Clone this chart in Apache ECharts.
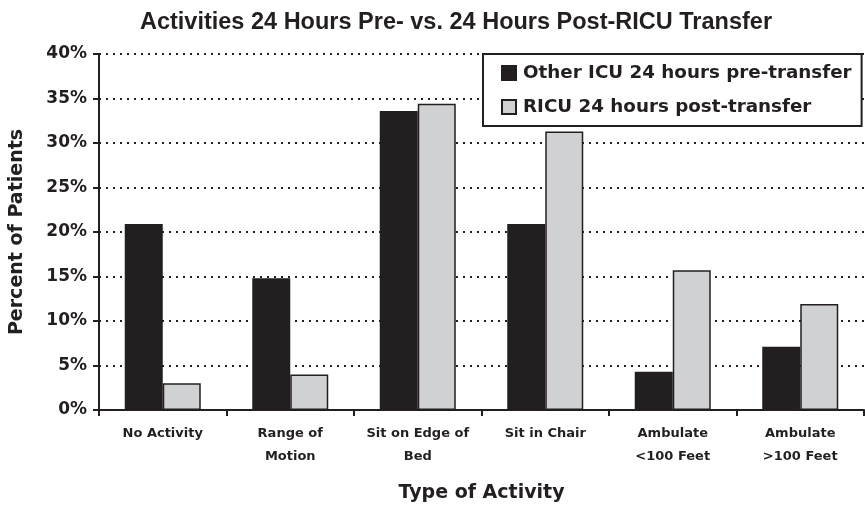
<!DOCTYPE html>
<html>
<head>
<meta charset="utf-8">
<script src="https://cdn.jsdelivr.net/npm/echarts@6/dist/echarts.min.js"></script>
<style>
  html, body { margin: 0; padding: 0; background: #fff; }
  #chart { width: 865px; height: 506px; }
</style>
</head>
<body>
<div id="chart"></div>
<script>
// 活动类别
let categories = ['No Activity', 'Range of\nMotion', 'Sit on Edge of\nBed', 'Sit in Chair', 'Ambulate\n<100 Feet', 'Ambulate\n>100 Feet']
// 转入前 24 小时
let preTransfer = [20.9, 14.8, 33.6, 20.9, 4.3, 7.1]
// 转入后 24 小时
let postTransfer = [3.0, 4.0, 34.4, 31.3, 15.7, 11.9]
let seriesNames = ['Other ICU 24 hours pre-transfer', 'RICU 24 hours post-transfer']

let dark = '#231f20'
let light = '#d0d1d3'
let font = 'DejaVu Sans, Verdana, sans-serif'
let titleFont = 'Liberation Sans, Arial, sans-serif'

let option = {
    backgroundColor: '#fff',
    animation: false,
    title: {
        text: 'Activities 24 Hours Pre- vs. 24 Hours Post-RICU Transfer',
        left: 451,
        top: 6,
        textAlign: 'center',
        textStyle: { fontFamily: titleFont, fontSize: 23.5, fontWeight: 'bold', color: dark }
    },
    legend: {
        orient: 'vertical',
        left: 483,
        top: 54,
        padding: [8, 10, 8, 18],
        itemGap: 12,
        itemWidth: 14,
        itemHeight: 14,
        icon: 'rect',
        backgroundColor: '#fff',
        borderColor: dark,
        borderWidth: 2,
        borderRadius: 0,
        data: seriesNames,
        textStyle: { fontFamily: font, fontSize: 18.3, fontWeight: 'bold', color: dark, lineHeight: 22, padding: [0, 0, 0, 2] }
    },
    grid: { left: 99, right: 1, top: 54, bottom: 96, outerBoundsMode: 'none' },
    xAxis: {
        type: 'category',
        data: categories,
        name: 'Type of Activity',
        nameLocation: 'middle',
        nameGap: 74,
        nameTextStyle: { fontFamily: font, fontSize: 19, fontWeight: 'bold', color: dark },
        axisLine: { lineStyle: { color: dark, width: 2 } },
        axisTick: { show: true, length: 6, lineStyle: { color: dark, width: 2 } },
        axisLabel: {
            interval: 0,
            margin: 12,
            fontFamily: font,
            fontSize: 13,
            fontWeight: 'bold',
            color: dark,
            lineHeight: 23
        }
    },
    yAxis: {
        type: 'value',
        min: 0,
        max: 40,
        interval: 5,
        name: 'Percent of Patients',
        nameLocation: 'middle',
        nameGap: 72,
        nameTextStyle: { fontFamily: font, fontSize: 19, fontWeight: 'bold', color: dark },
        axisLine: { show: true, lineStyle: { color: dark, width: 2 } },
        axisTick: { show: true, length: 6, lineStyle: { color: dark, width: 2 } },
        axisLabel: {
            margin: 12,
            fontFamily: font,
            fontSize: 17,
            fontWeight: 'bold',
            color: dark,
            formatter: '{value}%'
        },
        splitLine: { lineStyle: { color: dark, width: 2, type: [2, 5] } }
    },
    series: [
        {
            name: seriesNames[0],
            type: 'bar',
            data: preTransfer,
            barWidth: 38,
            barGap: '0%',
            itemStyle: { color: dark, borderColor: dark, borderWidth: 1.5 }
        },
        {
            name: seriesNames[1],
            type: 'bar',
            data: postTransfer,
            barWidth: 38,
            barGap: '0%',
            itemStyle: { color: light, borderColor: dark, borderWidth: 1.5 }
        }
    ]
}

let myChart = echarts.init(document.getElementById('chart'))
myChart.setOption(option)
</script>
</body>
</html>
